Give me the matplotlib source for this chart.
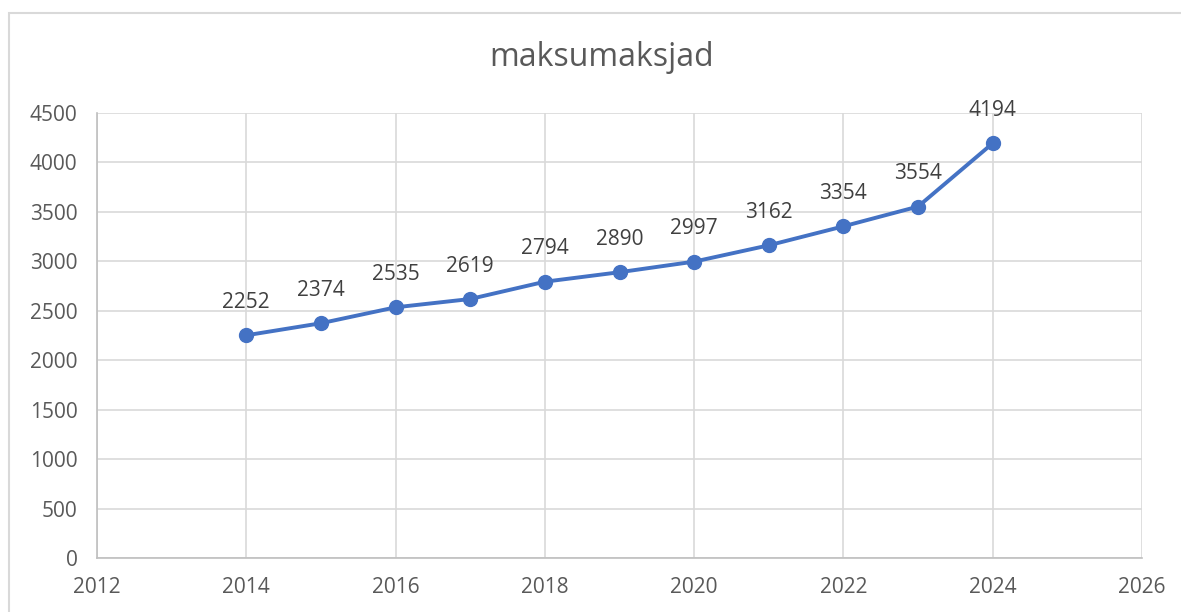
import matplotlib.pyplot as plt
from matplotlib.patches import Rectangle

aastad = [2014, 2015, 2016, 2017, 2018, 2019, 2020, 2021, 2022, 2023, 2024]
maksumaksjad = [2252, 2374, 2535, 2619, 2794, 2890, 2997, 3162, 3354, 3554, 4194]

plt.rcParams['font.family'] = ['Open Sans', 'DejaVu Sans']
tekst = '#595959'
joon = '#4472C4'

fig = plt.figure(figsize=(11.81, 6.12), dpi=100)
# diagrammi raam
fig.patches.append(Rectangle((9 / 1181, -0.1), 1.2, 1 - 13 / 612 + 0.1,
                             transform=fig.transFigure, fill=False,
                             edgecolor='#d9d9d9', linewidth=1.5))

ax = fig.add_axes([97 / 1181, 1 - 558 / 612, (1142 - 97) / 1181, (558 - 113) / 612])
ax.plot(aastad, maksumaksjad, color=joon, linewidth=2.8, marker='o',
        markersize=10, zorder=3)
for x, y in zip(aastad, maksumaksjad):
    ax.annotate(str(y), (x, y), xytext=(0, 16), textcoords='offset points',
                ha='center', va='bottom', fontsize=15, color='#404040')

ax.set_xlim(2012, 2026)
ax.set_ylim(0, 4500)
ax.set_xticks(range(2012, 2027, 2))
ax.set_yticks(range(0, 4501, 500))
ax.grid(True, color='#d9d9d9', linewidth=1.2)
ax.set_axisbelow(True)
for s in ['top', 'right']:
    ax.spines[s].set_visible(False)
ax.spines['left'].set_color('#bfbfbf')
ax.spines['bottom'].set_color('#bfbfbf')
ax.spines['left'].set_linewidth(1.2)
ax.spines['bottom'].set_linewidth(1.2)
ax.tick_params(length=0, labelsize=15, colors=tekst)
ax.tick_params(axis='x', pad=14)
ax.tick_params(axis='y', pad=14)

fig.text(602 / 1181, 1 - 58 / 612, 'maksumaksjad', ha='center', va='center',
         fontsize=23, color=tekst)

fig.savefig('out.png', dpi=100)
